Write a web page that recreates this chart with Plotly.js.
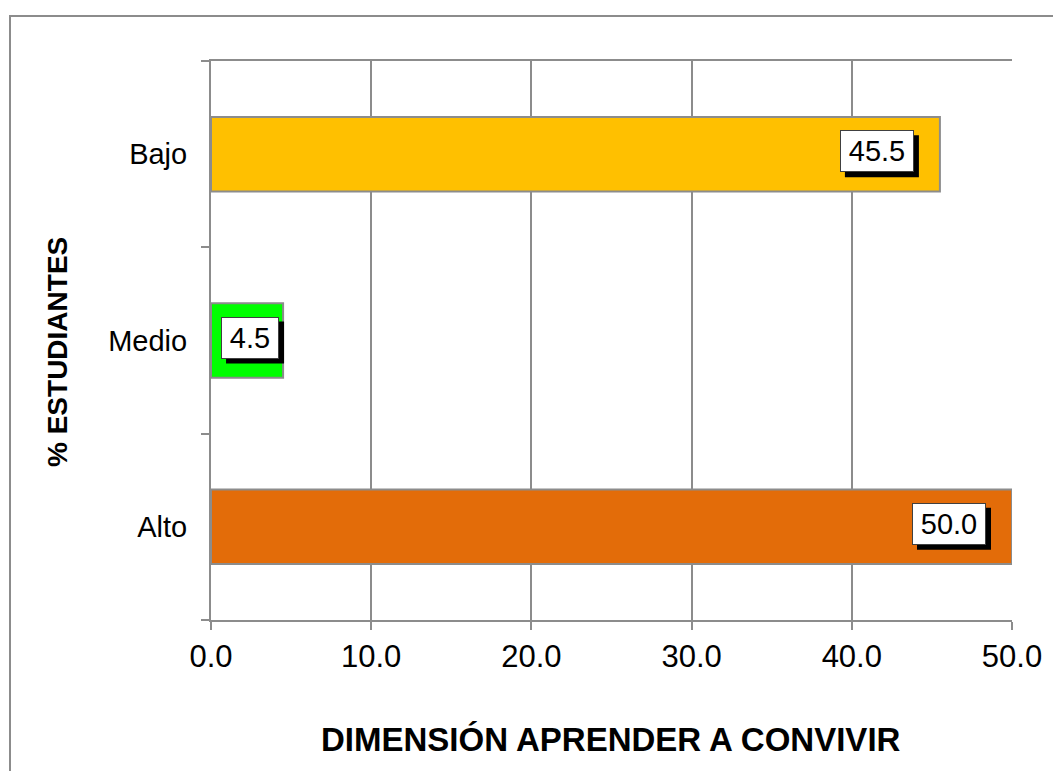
<!DOCTYPE html>
<html>
<head>
<meta charset="utf-8">
<script src="https://cdn.plot.ly/plotly-3.0.1.min.js"></script>
<style>
html,body{margin:0;padding:0;background:#fff;}
#chart{width:1053px;height:771px;}
</style>
</head>
<body>
<div id="chart"></div>
<script>
var categories = ['Alto', 'Medio', 'Bajo'];
var values = [50.0, 4.5, 45.5];
var barColors = ['#E36C09', '#00FF00', '#FFC000'];
var xTickVals = [0, 10, 20, 30, 40, 50];
var xTickText = ['0.0', '10.0', '20.0', '30.0', '40.0', '50.0'];
var xTitle = 'DIMENSIÓN APRENDER A CONVIVIR';
var yTitle = '% ESTUDIANTES';

var FONT = 'Liberation Sans, Arial, sans-serif';
var W = 1053, H = 771;
var mL = 211, mR = 41, mT = 61, mB = 151;
var plotW = W - mL - mR, plotH = H - mT - mB;
function px2x(px){ return (px - mL) / plotW; }
function py2y(py){ return (H - mB - py) / plotH; }

var LABEL_SIZE = 29;
var cv = document.createElement('canvas').getContext('2d');
cv.font = LABEL_SIZE + 'px "Liberation Sans", Arial, sans-serif';
function textW(t){ return cv.measureText(t).width; }

var trace = {
  type: 'bar',
  orientation: 'h',
  y: categories,
  x: values,
  width: 0.4,
  marker: {color: barColors, line: {color: '#8C8C8C', width: 2}},
  hoverinfo: 'none'
};

var annotations = [];
var shapes = [{
  type: 'rect', xref: 'paper', yref: 'paper',
  x0: px2x(10), x1: px2x(1070), y0: py2y(790), y1: py2y(16),
  line: {color: '#8C8C8C', width: 2}, fillcolor: 'rgba(0,0,0,0)', layer: 'below'
}];

values.forEach(function(v, i){
  var label = v.toFixed(1);
  var barPx = v / 50 * plotW;
  var big = barPx > 150;
  var bw = Math.round(textW(label) + 14);
  var totalW = bw + 4, totalH = 42;
  var xs = big ? -26 : 3;
  var ys = 3;
  var ax = big ? v : v / 2;
  // box extents in pixels relative to anchor
  var bx0 = big ? xs - totalW : xs - totalW / 2;
  var bx1 = big ? xs : xs + totalW / 2;
  shapes.push({
    type: 'rect', xref: 'x', yref: 'y',
    xsizemode: 'pixel', ysizemode: 'pixel',
    xanchor: ax, yanchor: categories[i],
    x0: bx0 + 5, x1: bx1 + 5,
    y0: ys - totalH / 2 - 5, y1: ys + totalH / 2 - 5,
    fillcolor: '#000', line: {width: 0}, layer: 'above'
  });
  annotations.push({
    x: ax, y: categories[i],
    xref: 'x', yref: 'y',
    xanchor: big ? 'right' : 'center',
    yanchor: 'middle',
    text: label,
    showarrow: false,
    font: {family: FONT, size: LABEL_SIZE, color: '#000'},
    width: bw, height: 38,
    align: 'center', valign: 'middle',
    borderpad: 1, borderwidth: 1,
    bgcolor: '#FFFFFF', bordercolor: '#404040',
    xshift: xs, yshift: ys
  });
});

annotations.push({
  xref: 'paper', yref: 'paper', x: px2x(611), y: py2y(739),
  xanchor: 'center', yanchor: 'middle', showarrow: false,
  text: '<b>' + xTitle + '</b>',
  font: {family: FONT, size: 33, color: '#000'}
});
annotations.push({
  xref: 'paper', yref: 'paper', x: px2x(57), y: py2y(352),
  xanchor: 'center', yanchor: 'middle', showarrow: false, textangle: -90,
  text: '<b>' + yTitle + '</b>',
  font: {family: FONT, size: 28, color: '#000'}
});

var layout = {
  width: W, height: H,
  margin: {l: mL, r: mR, t: mT, b: mB, pad: 0},
  paper_bgcolor: '#fff', plot_bgcolor: '#fff',
  showlegend: false,
  font: {family: FONT, color: '#000'},
  xaxis: {
    range: [0, 50], tickvals: xTickVals, ticktext: xTickText,
    showgrid: true, gridcolor: '#8C8C8C', gridwidth: 2,
    showline: true, linecolor: '#8C8C8C', linewidth: 2, mirror: true,
    ticks: 'outside', ticklen: 8, tickwidth: 2, tickcolor: '#8C8C8C',
    tickfont: {family: FONT, size: 31, color: '#000'},
    zeroline: false, fixedrange: true
  },
  yaxis: {
    type: 'category', categoryorder: 'array', categoryarray: categories,
    range: [-0.5, 2.5],
    showgrid: false, showline: true, linecolor: '#8C8C8C', linewidth: 2,
    ticks: 'outside', tickson: 'boundaries', ticklen: 8, tickwidth: 2, tickcolor: '#8C8C8C',
    tickfont: {family: FONT, size: 29, color: '#000'},
    ticklabelstandoff: 16,
    zeroline: false, fixedrange: true
  },
  annotations: annotations,
  shapes: shapes
};

Plotly.newPlot('chart', [trace], layout, {staticPlot: true, displayModeBar: false});
</script>
</body>
</html>
